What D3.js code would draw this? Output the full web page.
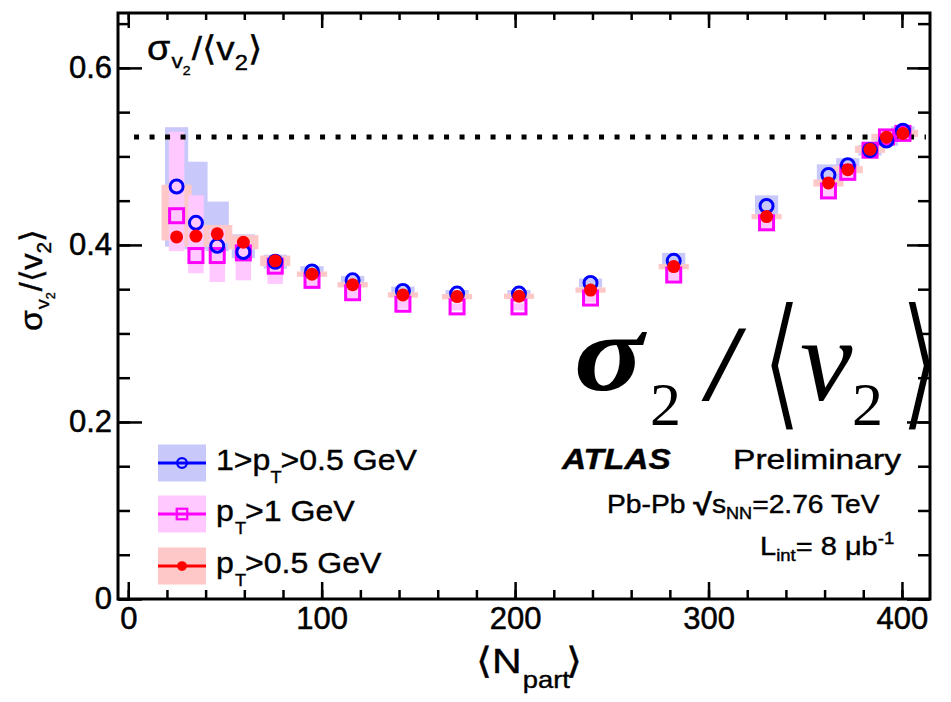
<!DOCTYPE html>
<html>
<head>
<meta charset="utf-8">
<script src="https://cdn.jsdelivr.net/npm/d3@7"></script>
<style>
  body { margin: 0; background: #fff; }
  svg { display: block; }
</style>
</head>
<body>
<svg id="chart" width="951" height="702"></svg>
<script>
// Centrality points: mean number of participants
const npart = [25, 35, 46, 59.5, 76, 95, 116, 142, 170, 202, 239, 282, 330, 362, 372, 383.5, 392, 400.5];

// sigma_v2 / <v2> for 1 > pT > 0.5 GeV
const ratioMid = [0.466, 0.425, 0.399, 0.392, 0.381, 0.370, 0.360, 0.348, 0.345, 0.345, 0.357, 0.382, 0.444, 0.479, 0.490, 0.507, 0.518, 0.529];
const sysMidHi = [0.067, 0.069, 0.050, 0.020, 0.008, 0.006, 0.005, 0.005, 0.004, 0.004, 0.005, 0.009, 0.012, 0.012, 0.008, 0.006, 0.006, 0.005];
const sysMidLo = [0.068, 0.030, 0.006, 0.007, 0.008, 0.006, 0.005, 0.005, 0.004, 0.004, 0.005, 0.009, 0.012, 0.012, 0.008, 0.006, 0.006, 0.005];

// sigma_v2 / <v2> for pT > 1 GeV
const ratioHigh = [0.433, 0.388, 0.388, 0.391, 0.376, 0.360, 0.346, 0.333, 0.330, 0.330, 0.340, 0.366, 0.425, 0.461, 0.482, 0.507, 0.522, 0.526];
const sysHighHi = [0.095, 0.068, 0.030, 0.012, 0.010, 0.008, 0.006, 0.005, 0.004, 0.004, 0.005, 0.006, 0.008, 0.008, 0.007, 0.006, 0.006, 0.006];
const sysHighLo = [0.040, 0.020, 0.030, 0.031, 0.020, 0.010, 0.006, 0.005, 0.004, 0.004, 0.005, 0.006, 0.008, 0.008, 0.007, 0.006, 0.006, 0.006];

// sigma_v2 / <v2> for pT > 0.5 GeV
const ratioAll = [0.409, 0.410, 0.4125, 0.403, 0.382, 0.367, 0.355, 0.3435, 0.3416, 0.342, 0.349, 0.3755, 0.432, 0.470, 0.485, 0.508, 0.5217, 0.526];
const sysAllHi = [0.059, 0.012, 0.010, 0.008, 0.006, 0.003, 0.003, 0.003, 0.003, 0.003, 0.003, 0.003, 0.003, 0.004, 0.004, 0.004, 0.004, 0.004];
const sysAllLo = [0.004, 0.012, 0.010, 0.008, 0.006, 0.003, 0.003, 0.003, 0.003, 0.003, 0.003, 0.003, 0.003, 0.004, 0.004, 0.004, 0.004, 0.004];

// Reference level (dotted line)
const refLevel = [0.522];

// Axis ticks
const xMajor = [0, 100, 200, 300, 400];
const xMinor = d3.range(0, 420, 20);
const yMajor = [0, 0.2, 0.4, 0.6];
const yMinor = d3.range(0, 0.66, 0.05).map(v => +v.toFixed(2));

const seriesLabels = ["1>pT>0.5 GeV", "pT>1 GeV", "pT>0.5 GeV"];

const W = 951, H = 702;
const L = 118, R = 930, T = 13, B = 599;

const svg = d3.select("#chart");
svg.append("rect").attr("width", W).attr("height", H).attr("fill", "#fff");

const x = d3.scaleLinear().domain([-5.3, 414.5]).range([L, R]);
const y = d3.scaleLinear().domain([0, 0.662]).range([B, T]);

const SANS = "'Liberation Sans', Arial, Helvetica, sans-serif";
const SERIF = "'Liberation Serif', 'Times New Roman', serif";

const series = [
  { vals: ratioMid,  hi: sysMidHi,  lo: sysMidLo,  color: "#0000ff", fill: "#c8c8fa", halfW: 6,   marker: "circle" },
  { vals: ratioHigh, hi: sysHighHi, lo: sysHighLo, color: "#ff00ff", fill: "#ffc8ff", halfW: 4,   marker: "square" },
  { vals: ratioAll,  hi: sysAllHi,  lo: sysAllLo,  color: "#ff0000", fill: "#ffc8c8", halfW: 7.8, marker: "dot" }
];

// systematic boxes: blue first, red, then pink on top
const gBoxes = svg.append("g");
[series[0], series[2], series[1]].forEach(s => {
  const rows = npart.map((n, i) => ({ n, v: s.vals[i], hi: s.hi[i], lo: s.lo[i] }));
  gBoxes.append("g").selectAll("rect").data(rows).join("rect")
    .attr("x", d => x(d.n - s.halfW))
    .attr("width", d => x(d.n + s.halfW) - x(d.n - s.halfW))
    .attr("y", d => y(d.v + d.hi))
    .attr("height", d => y(d.v - d.lo) - y(d.v + d.hi))
    .attr("fill", s.fill);
});

// dotted reference line
svg.append("g").selectAll("line").data(refLevel).join("line")
  .attr("x1", x(3)).attr("x2", R - 4)
  .attr("y1", d => y(d)).attr("y2", d => y(d))
  .attr("stroke", "#000").attr("stroke-width", 5)
  .attr("stroke-dasharray", "5,10.5");

// markers: squares, circles, then filled dots
const gMarks = svg.append("g");
function drawMarker(g, s, cx, cy, scale) {
  const k = scale || 1;
  if (s.marker === "circle") {
    g.append("circle").attr("cx", cx).attr("cy", cy).attr("r", 6.5 * k)
      .attr("fill", "none").attr("stroke", s.color).attr("stroke-width", 3 * k);
  } else if (s.marker === "square") {
    const h = 7 * k;
    g.append("rect").attr("x", cx - h).attr("y", cy - h).attr("width", 2 * h).attr("height", 2 * h)
      .attr("fill", "none").attr("stroke", s.color).attr("stroke-width", 3 * k);
  } else {
    g.append("circle").attr("cx", cx).attr("cy", cy).attr("r", 6.5 * k).attr("fill", s.color);
  }
}
[series[1], series[0], series[2]].forEach(s => {
  const g = gMarks.append("g");
  npart.forEach((n, i) => drawMarker(g, s, x(n), y(s.vals[i])));
});

// large formula overlay (drawn below the frame so the frame stays on top)
const gF = svg.append("g").attr("font-family", SERIF).attr("fill", "#000");
gF.append("text").attr("transform", "translate(574,390) scale(1.18,1)").attr("font-size", 110)
  .attr("font-weight", "bold").attr("font-style", "italic").text("σ");
gF.append("text").attr("x", 650).attr("y", 425).attr("font-size", 62).text("2");
gF.append("text").attr("x", 708).attr("y", 400).attr("font-size", 108)
  .attr("font-weight", "bold").attr("font-style", "italic").text("/");
// thin angle brackets: glyph eroded with a white outline painted over the fill
[["⟨", 760], ["⟩", 898]].forEach(([ch, bx]) => {
  gF.append("text").attr("transform", `translate(${bx},412) scale(0.8,1.05)`)
    .attr("font-family", "'DejaVu Sans', sans-serif").attr("font-size", 140)
    .attr("stroke", "#fff").attr("stroke-width", 3.2).attr("paint-order", "fill")
    .text(ch);
});
gF.append("text").attr("x", 800).attr("y", 400).attr("font-size", 118)
  .attr("font-style", "italic").text("v");
gF.append("text").attr("x", 852).attr("y", 425).attr("font-size", 62).text("2");

// axes
function styleAxis(g, sw) {
  g.select(".domain").remove();
  g.selectAll(".tick line").attr("stroke", "#000").attr("stroke-width", sw);
  g.selectAll(".tick text").attr("fill", "#000").attr("font-family", SANS).attr("font-size", 31)
    .attr("stroke", "#000").attr("stroke-width", 0.5);
}
const fmtY = d => d === 0 ? "0" : d.toFixed(1);

svg.append("g").attr("transform", `translate(0,${B})`)
  .call(d3.axisBottom(x).tickValues(xMinor).tickSizeInner(-9).tickSizeOuter(0).tickFormat(""))
  .call(g => styleAxis(g, 2.5));
svg.append("g").attr("transform", `translate(0,${B})`)
  .call(d3.axisBottom(x).tickValues(xMajor).tickSizeInner(-17).tickSizeOuter(0).tickPadding(8).tickFormat(d3.format("d")))
  .call(g => styleAxis(g, 2.5));
svg.append("g").attr("transform", `translate(0,${T})`)
  .call(d3.axisTop(x).tickValues(xMinor).tickSizeInner(-7).tickSizeOuter(0).tickFormat(""))
  .call(g => styleAxis(g, 2.5));
svg.append("g").attr("transform", `translate(0,${T})`)
  .call(d3.axisTop(x).tickValues(xMajor).tickSizeInner(-15).tickSizeOuter(0).tickFormat(""))
  .call(g => styleAxis(g, 2.5));

svg.append("g").attr("transform", `translate(${L},0)`)
  .call(d3.axisLeft(y).tickValues(yMinor).tickSizeInner(-12).tickSizeOuter(0).tickFormat(""))
  .call(g => styleAxis(g, 2.5));
svg.append("g").attr("transform", `translate(${L},0)`)
  .call(d3.axisLeft(y).tickValues(yMajor).tickSizeInner(-24).tickSizeOuter(0).tickPadding(6).tickFormat(fmtY))
  .call(g => styleAxis(g, 2.5));
svg.append("g").attr("transform", `translate(${R},0)`)
  .call(d3.axisRight(y).tickValues(yMinor).tickSizeInner(-12).tickSizeOuter(0).tickFormat(""))
  .call(g => styleAxis(g, 2.5));
svg.append("g").attr("transform", `translate(${R},0)`)
  .call(d3.axisRight(y).tickValues(yMajor).tickSizeInner(-23).tickSizeOuter(0).tickFormat(""))
  .call(g => styleAxis(g, 2.5));

// frame
svg.append("rect").attr("x", L).attr("y", T).attr("width", R - L).attr("height", B - T)
  .attr("fill", "none").attr("stroke", "#000").attr("stroke-width", 3);

// rich text helper: parts = [{t, size, y, dx, weight, style, family}]
function rich(g, tx, ty, parts, opt) {
  const o = opt || {};
  const t = g.append("text")
    .attr("transform", `translate(${tx},${ty}) rotate(${o.rot || 0}) scale(${o.sx || 1},1)`)
    .attr("font-family", o.family || SANS)
    .attr("fill", "#000")
    .attr("stroke", "#000").attr("stroke-width", o.sw == null ? 0.4 : o.sw)
    .attr("text-anchor", o.anchor || "start");
  parts.forEach(p => {
    const s = t.append("tspan").text(p.t).attr("y", p.y || 0).attr("font-size", p.size);
    if (p.dx) s.attr("dx", p.dx);
    if (p.weight) s.attr("font-weight", p.weight);
    if (p.style) s.attr("font-style", p.style);
    if (p.family) s.attr("font-family", p.family);
  });
  return t;
}

const gText = svg.append("g");

// label inside the frame, top left
rich(gText, 147, 60, [
  { t: "σ", size: 35 },
  { t: "v", size: 21, y: 8, dx: 1 },
  { t: "2", size: 13, y: 15 },
  { t: "/⟨v", size: 34, y: 0, dx: 1 },
  { t: "2", size: 22, y: 10 },
  { t: "⟩", size: 34, y: 0 }
], { sx: 1.08 });

// y axis title
rich(gText, 42, 331, [
  { t: "σ", size: 32 },
  { t: "v", size: 19, y: 7, dx: 1 },
  { t: "2", size: 12, y: 13 },
  { t: "/⟨v", size: 31, y: 0, dx: 1 },
  { t: "2", size: 20, y: 9 },
  { t: "⟩", size: 31, y: 0 }
], { rot: -90, sx: 1.05 });

// x axis title
rich(gText, 476, 673, [
  { t: "⟨N", size: 36 },
  { t: "part", size: 24, y: 15, dx: 1 },
  { t: "⟩", size: 36, y: 0, dx: -3 }
], { sx: 1.14 });

// legend
const legendRows = [463, 514, 566];
const gLeg = svg.append("g");
[series[0], series[1], series[2]].forEach((s, i) => {
  const cy = legendRows[i];
  gLeg.append("rect").attr("x", 158).attr("y", cy - 18.5).attr("width", 48).attr("height", 37).attr("fill", s.fill);
  gLeg.append("line").attr("x1", 158).attr("x2", 206).attr("y1", cy).attr("y2", cy)
    .attr("stroke", s.color).attr("stroke-width", 3);
  drawMarker(gLeg, s, 182, cy, 0.75);
});
const legParts = [
  [{ t: "1>p", size: 30 }, { t: "T", size: 17, y: 13, dx: 0 }, { t: ">0.5 GeV", size: 30, y: 0, dx: -1 }],
  [{ t: "p", size: 30 }, { t: "T", size: 17, y: 13, dx: 1 }, { t: ">1 GeV", size: 30, y: 0, dx: -1 }],
  [{ t: "p", size: 30 }, { t: "T", size: 17, y: 13, dx: 1 }, { t: ">0.5 GeV", size: 30, y: 0, dx: -1 }]
];
legParts.forEach((parts, i) => {
  rich(gLeg, 216, legendRows[i] + 7, parts, { sx: 1.07 }).attr("aria-label", seriesLabels[i]);
});

// experiment labels
rich(gText, 562, 469, [{ t: "ATLAS", size: 29, weight: "bold", style: "italic" }], { sx: 1.15 });
rich(gText, 733, 469, [{ t: "Preliminary", size: 28 }], { sx: 1.2 });
rich(gText, 607, 513, [
  { t: "Pb-Pb ", size: 25 },
  { t: "√", size: 30, weight: "bold", y: 2 },
  { t: "s", size: 25, y: 0 },
  { t: "NN", size: 16, y: 6 },
  { t: "=2.76 TeV", size: 25, y: 0 }
], { sx: 1.13 });
rich(gText, 760, 555, [
  { t: "L", size: 25 },
  { t: "int", size: 16, y: 6 },
  { t: "= 8 μb", size: 25, y: 0 },
  { t: "-1", size: 16, y: -11 }
], { sx: 1.16 });
</script>
</body>
</html>
